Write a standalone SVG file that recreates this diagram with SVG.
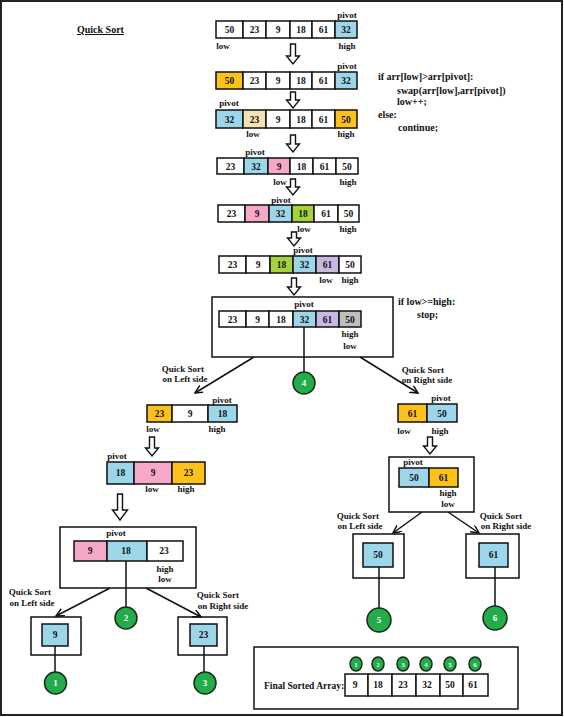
<svg xmlns="http://www.w3.org/2000/svg" width="564" height="717" viewBox="0 0 564 717">
<defs>
<style>
text{font-family:"Liberation Serif","Times New Roman",serif;font-weight:bold;fill:#111}
.n{font-size:9.5px;text-anchor:middle}
.l{font-size:9px;text-anchor:middle}
.c{font-size:10px}
.cell{stroke:#111;stroke-width:1.5}
.w{fill:#fff}.b{fill:#9dd6e8}.o{fill:#fcc21b}.p{fill:#f6a8c8}.g{fill:#a6d33a}.v{fill:#c8b9e0}.y{fill:#bfbfbf}.e{fill:#f3e2b6}
.box{fill:none;stroke:#111;stroke-width:1.5}
.ar{fill:#fff;stroke:#111;stroke-width:1.4}
.ln{stroke:#111;stroke-width:1.5;fill:none}
.cir{fill:#22ad4a;stroke:#1a2a1a;stroke-width:1.5}
.ct{fill:#fff;font-size:9px;text-anchor:middle}
</style>
<marker id="m" markerWidth="10" markerHeight="10" refX="8" refY="4" orient="auto" markerUnits="userSpaceOnUse">
<path d="M0,0 L8,4 L0,8" fill="none" stroke="#111" stroke-width="1.5"/>
</marker>
</defs>
<rect x="1" y="1" width="561" height="714" fill="#fff" stroke="#222" stroke-width="2"/>
<text x="77" y="33" class="c" text-decoration="underline">Quick Sort</text>

<g id="code1">
<text x="378" y="80" class="c">if arr[low]&gt;arr[pivot]:</text>
<text x="397" y="94" class="c">swap(arr[low],arr[pivot])</text>
<text x="397" y="105" class="c">low++;</text>
<text x="378" y="118" class="c">else:</text>
<text x="398" y="131" class="c">continue;</text>
</g>
<g id="code2">
<text x="398" y="305" class="c">if low&gt;=high:</text>
<text x="417" y="318" class="c">stop;</text>
</g>

<g id="row1">
<rect class="cell w" x="216" y="21" width="27" height="17"/><rect class="cell w" x="243" y="21" width="23" height="17"/><rect class="cell w" x="266" y="21" width="24" height="17"/><rect class="cell w" x="290" y="21" width="22" height="17"/><rect class="cell w" x="312" y="21" width="23" height="17"/><rect class="cell b" x="335" y="21" width="22" height="17"/>
<text class="n" x="229.5" y="33">50</text><text class="n" x="254.5" y="33">23</text><text class="n" x="278" y="33">9</text><text class="n" x="301" y="33">18</text><text class="n" x="323.5" y="33">61</text><text class="n" x="346" y="33">32</text>
<text class="l" x="347" y="18">pivot</text><text class="l" x="223" y="49">low</text><text class="l" x="347" y="49">high</text>
</g>
<g id="row2">
<rect class="cell o" x="216" y="72" width="27" height="17"/><rect class="cell w" x="243" y="72" width="23" height="17"/><rect class="cell w" x="266" y="72" width="24" height="17"/><rect class="cell w" x="290" y="72" width="22" height="17"/><rect class="cell w" x="312" y="72" width="23" height="17"/><rect class="cell b" x="335" y="72" width="22" height="17"/>
<text class="n" x="229.5" y="84">50</text><text class="n" x="254.5" y="84">23</text><text class="n" x="278" y="84">9</text><text class="n" x="301" y="84">18</text><text class="n" x="323.5" y="84">61</text><text class="n" x="346" y="84">32</text>
<text class="l" x="347" y="69">pivot</text>
</g>
<g id="row3">
<rect class="cell b" x="216" y="110" width="27" height="18"/><rect class="cell e" x="243" y="110" width="23" height="18"/><rect class="cell w" x="266" y="110" width="24" height="18"/><rect class="cell w" x="290" y="110" width="22" height="18"/><rect class="cell w" x="312" y="110" width="23" height="18"/><rect class="cell o" x="335" y="110" width="22" height="18"/>
<text class="n" x="229.5" y="122.5">32</text><text class="n" x="254.5" y="122.5">23</text><text class="n" x="278" y="122.5">9</text><text class="n" x="301" y="122.5">18</text><text class="n" x="323.5" y="122.5">61</text><text class="n" x="346" y="122.5">50</text>
<text class="l" x="229" y="106">pivot</text><text class="l" x="253" y="137">low</text><text class="l" x="346" y="137">high</text>
</g>
<g id="row4">
<rect class="cell w" x="217" y="158" width="27" height="16"/><rect class="cell b" x="244" y="158" width="24" height="16"/><rect class="cell p" x="268" y="158" width="22" height="16"/><rect class="cell w" x="290" y="158" width="23" height="16"/><rect class="cell w" x="313" y="158" width="23" height="16"/><rect class="cell w" x="336" y="158" width="22" height="16"/>
<text class="n" x="230.5" y="169.5">23</text><text class="n" x="256" y="169.5">32</text><text class="n" x="279" y="169.5">9</text><text class="n" x="301.5" y="169.5">18</text><text class="n" x="324.5" y="169.5">61</text><text class="n" x="347" y="169.5">50</text>
<text class="l" x="255" y="155">pivot</text><text class="l" x="280" y="185">low</text><text class="l" x="348" y="185">high</text>
</g>
<g id="row5">
<rect class="cell w" x="218" y="205" width="27" height="17"/><rect class="cell p" x="245" y="205" width="24" height="17"/><rect class="cell b" x="269" y="205" width="23" height="17"/><rect class="cell g" x="292" y="205" width="22" height="17"/><rect class="cell w" x="314" y="205" width="24" height="17"/><rect class="cell w" x="338" y="205" width="21" height="17"/>
<text class="n" x="231.5" y="217">23</text><text class="n" x="257" y="217">9</text><text class="n" x="280.5" y="217">32</text><text class="n" x="303" y="217">18</text><text class="n" x="326" y="217">61</text><text class="n" x="348.5" y="217">50</text>
<text class="l" x="281" y="203">pivot</text><text class="l" x="304" y="232">low</text><text class="l" x="348" y="232">high</text>
</g>
<g id="row6">
<rect class="cell w" x="219" y="256" width="27" height="17"/><rect class="cell w" x="246" y="256" width="24" height="17"/><rect class="cell g" x="270" y="256" width="23" height="17"/><rect class="cell b" x="293" y="256" width="23" height="17"/><rect class="cell v" x="316" y="256" width="23" height="17"/><rect class="cell w" x="339" y="256" width="22" height="17"/>
<text class="n" x="232.5" y="268">23</text><text class="n" x="258" y="268">9</text><text class="n" x="281.5" y="268">18</text><text class="n" x="304.5" y="268">32</text><text class="n" x="327.5" y="268">61</text><text class="n" x="350" y="268">50</text>
<text class="l" x="303" y="253">pivot</text><text class="l" x="326" y="283">low</text><text class="l" x="350" y="283">high</text>
</g>
<g id="row7">
<rect class="box" x="212" y="297" width="181" height="60"/>
<rect class="cell w" x="219" y="311" width="27" height="16"/><rect class="cell w" x="246" y="311" width="23" height="16"/><rect class="cell w" x="269" y="311" width="24" height="16"/><rect class="cell b" x="293" y="311" width="23" height="16"/><rect class="cell v" x="316" y="311" width="23" height="16"/><rect class="cell y" x="339" y="311" width="22" height="16"/>
<text class="n" x="232.5" y="322.5">23</text><text class="n" x="257.5" y="322.5">9</text><text class="n" x="281" y="322.5">18</text><text class="n" x="304.5" y="322.5">32</text><text class="n" x="327.5" y="322.5">61</text><text class="n" x="350" y="322.5">50</text>
<text class="l" x="304" y="307">pivot</text><text class="l" x="350" y="337">high</text><text class="l" x="350" y="349">low</text>
</g>

<g id="left1">
<rect class="cell o" x="147" y="405" width="25" height="17"/><rect class="cell w" x="172" y="405" width="36" height="17"/><rect class="cell b" x="208" y="405" width="29" height="17"/>
<text class="n" x="159.5" y="417">23</text><text class="n" x="190" y="417">9</text><text class="n" x="222.5" y="417">18</text>
<text class="l" x="222" y="403">pivot</text><text class="l" x="153" y="432">low</text><text class="l" x="217" y="432">high</text>
</g>
<g id="left2">
<rect class="cell b" x="107" y="462" width="27" height="22"/><rect class="cell p" x="134" y="462" width="38" height="22"/><rect class="cell o" x="172" y="462" width="33" height="22"/>
<text class="n" x="120.5" y="476">18</text><text class="n" x="153" y="476">9</text><text class="n" x="188.5" y="476">23</text>
<text class="l" x="117" y="459">pivot</text><text class="l" x="152" y="492">low</text><text class="l" x="186" y="492">high</text>
</g>
<g id="left3">
<rect class="box" x="60" y="527" width="136" height="61"/>
<rect class="cell p" x="74" y="541" width="33" height="20"/><rect class="cell b" x="107" y="541" width="40" height="20"/><rect class="cell w" x="147" y="541" width="36" height="20"/>
<text class="n" x="90" y="554">9</text><text class="n" x="126" y="554">18</text><text class="n" x="164" y="554">23</text>
<text class="l" x="116" y="536">pivot</text><text class="l" x="165" y="572">high</text><text class="l" x="165" y="582">low</text>
</g>
<g id="leaf9">
<rect class="box" x="31" y="617" width="50" height="38"/>
<rect class="cell b" x="42" y="624" width="26" height="22"/>
<text class="n" x="55" y="638">9</text>
</g>
<g id="leaf23">
<rect class="box" x="178" y="617" width="49" height="38"/>
<rect class="cell b" x="190" y="624" width="27" height="22"/>
<text class="n" x="203.5" y="638">23</text>
</g>

<g id="right1">
<rect class="cell o" x="398" y="404" width="29" height="18"/><rect class="cell b" x="427" y="404" width="30" height="18"/>
<text class="n" x="412.5" y="416.5">61</text><text class="n" x="442" y="416.5">50</text>
<text class="l" x="441" y="401">pivot</text><text class="l" x="404" y="434">low</text><text class="l" x="440" y="434">high</text>
</g>
<g id="right2">
<rect class="box" x="389" y="457" width="85" height="55"/>
<rect class="cell b" x="399" y="468" width="30" height="19"/><rect class="cell o" x="429" y="468" width="29" height="19"/>
<text class="n" x="414" y="481">50</text><text class="n" x="443.5" y="481">61</text>
<text class="l" x="413" y="465">pivot</text><text class="l" x="448" y="496">high</text><text class="l" x="448" y="507">low</text>
</g>
<g id="leaf50">
<rect class="box" x="353" y="534" width="51" height="44"/>
<rect class="cell b" x="363" y="543" width="30" height="24"/>
<text class="n" x="378" y="558">50</text>
</g>
<g id="leaf61">
<rect class="box" x="466" y="534" width="53" height="44"/>
<rect class="cell b" x="479" y="543" width="29" height="24"/>
<text class="n" x="493.5" y="558">61</text>
</g>

<g id="final">
<rect class="box" x="254" y="647" width="264" height="62"/>
<text x="264" y="689" style="font-size:9.5px">Final Sorted Array:</text>
<rect class="cell w" x="345" y="674" width="23" height="22"/><rect class="cell w" x="368" y="674" width="24" height="22"/><rect class="cell w" x="392" y="674" width="24" height="22"/><rect class="cell w" x="416" y="674" width="24" height="22"/><rect class="cell w" x="440" y="674" width="23" height="22"/><rect class="cell w" x="463" y="674" width="25" height="22"/>
<text class="n" x="355" y="688">9</text><text class="n" x="378" y="688">18</text><text class="n" x="403" y="688">23</text><text class="n" x="427" y="688">32</text><text class="n" x="450" y="688">50</text><text class="n" x="473" y="688">61</text>
<ellipse class="cir" cx="356" cy="664" rx="6" ry="7"/><text class="ct" style="font-size:7px" x="356" y="666.5">1</text>
<ellipse class="cir" cx="378" cy="664" rx="6" ry="7"/><text class="ct" style="font-size:7px" x="378" y="666.5">2</text>
<ellipse class="cir" cx="403" cy="664" rx="6" ry="7"/><text class="ct" style="font-size:7px" x="403" y="666.5">3</text>
<ellipse class="cir" cx="426" cy="664" rx="6" ry="7"/><text class="ct" style="font-size:7px" x="426" y="666.5">4</text>
<ellipse class="cir" cx="450" cy="664" rx="6" ry="7"/><text class="ct" style="font-size:7px" x="450" y="666.5">5</text>
<ellipse class="cir" cx="475" cy="664" rx="6" ry="7"/><text class="ct" style="font-size:7px" x="475" y="666.5">6</text>
</g>

<g id="labels">
<text class="l" x="183" y="372">Quick Sort</text><text class="l" x="185" y="382">on Left side</text>
<text class="l" x="423" y="373">Quick Sort</text><text class="l" x="427" y="383">on Right side</text>
<text class="l" x="30" y="595">Quick Sort</text><text class="l" x="32" y="606">on Left side</text>
<text class="l" x="218" y="598">Quick Sort</text><text class="l" x="223" y="609">on Right side</text>
<text class="l" x="358" y="519">Quick Sort</text><text class="l" x="360" y="529">on Left side</text>
<text class="l" x="501" y="519">Quick Sort</text><text class="l" x="506" y="529">on Right side</text>
</g>

<g id="connectors">
<path class="ar" d="M290.5,44 H295.5 V56 H299.5 L293,64 L286.5,56 H290.5 Z"/>
<path class="ar" d="M290.5,92 H295.5 V100 H299.5 L293,108 L286.5,100 H290.5 Z"/>
<path class="ar" d="M290.5,135 H295.5 V144 H299.5 L293,152 L286.5,144 H290.5 Z"/>
<path class="ar" d="M290.5,179 H295.5 V187 H299.5 L293,195 L286.5,187 H290.5 Z"/>
<path class="ar" d="M291.5,232 H296.5 V238 H300.5 L294,246 L287.5,238 H291.5 Z"/>
<path class="ar" d="M291.5,278 H296.5 V287 H300.5 L294,295 L287.5,287 H291.5 Z"/>
<path class="ar" d="M149.5,437 H154.5 V448 H158.5 L152,456 L145.5,448 H149.5 Z"/>
<path class="ar" d="M117.5,494 H122.5 V510 H127.5 L120,520 L112.5,510 H117.5 Z"/>
<path class="ar" d="M427.5,437 H432.5 V446 H436.5 L430,454 L423.5,446 H427.5 Z"/>
<line class="ln" x1="254" y1="357" x2="195" y2="393" marker-end="url(#m)"/>
<line class="ln" x1="360" y1="357" x2="418" y2="393" marker-end="url(#m)"/>
<line class="ln" x1="110" y1="588" x2="56" y2="616" marker-end="url(#m)"/>
<line class="ln" x1="146" y1="588" x2="201" y2="617" marker-end="url(#m)"/>
<line class="ln" x1="422" y1="512" x2="393" y2="533" marker-end="url(#m)"/>
<line class="ln" x1="448" y1="512" x2="479" y2="533" marker-end="url(#m)"/>
<line class="ln" x1="304" y1="327" x2="304" y2="372"/>
<line class="ln" x1="126" y1="561" x2="126" y2="607"/>
<line class="ln" x1="55" y1="646" x2="55" y2="672"/>
<line class="ln" x1="204" y1="646" x2="204" y2="672"/>
<line class="ln" x1="379" y1="567" x2="379" y2="608"/>
<line class="ln" x1="495" y1="567" x2="495" y2="606"/>
</g>

<g id="c4"><circle class="cir" cx="304" cy="383" r="11"/><text class="ct" x="304" y="386">4</text></g>
<g id="c2"><circle class="cir" cx="126" cy="618" r="11"/><text class="ct" x="126" y="621">2</text></g>
<g id="c1"><circle class="cir" cx="55.5" cy="683" r="11"/><text class="ct" x="55.5" y="686">1</text></g>
<g id="c3"><circle class="cir" cx="205" cy="683" r="11"/><text class="ct" x="205" y="686">3</text></g>
<g id="c5"><circle class="cir" cx="379" cy="620" r="12"/><text class="ct" x="379" y="623">5</text></g>
<g id="c6"><circle class="cir" cx="495" cy="618" r="12"/><text class="ct" x="495" y="621">6</text></g>
</svg>
